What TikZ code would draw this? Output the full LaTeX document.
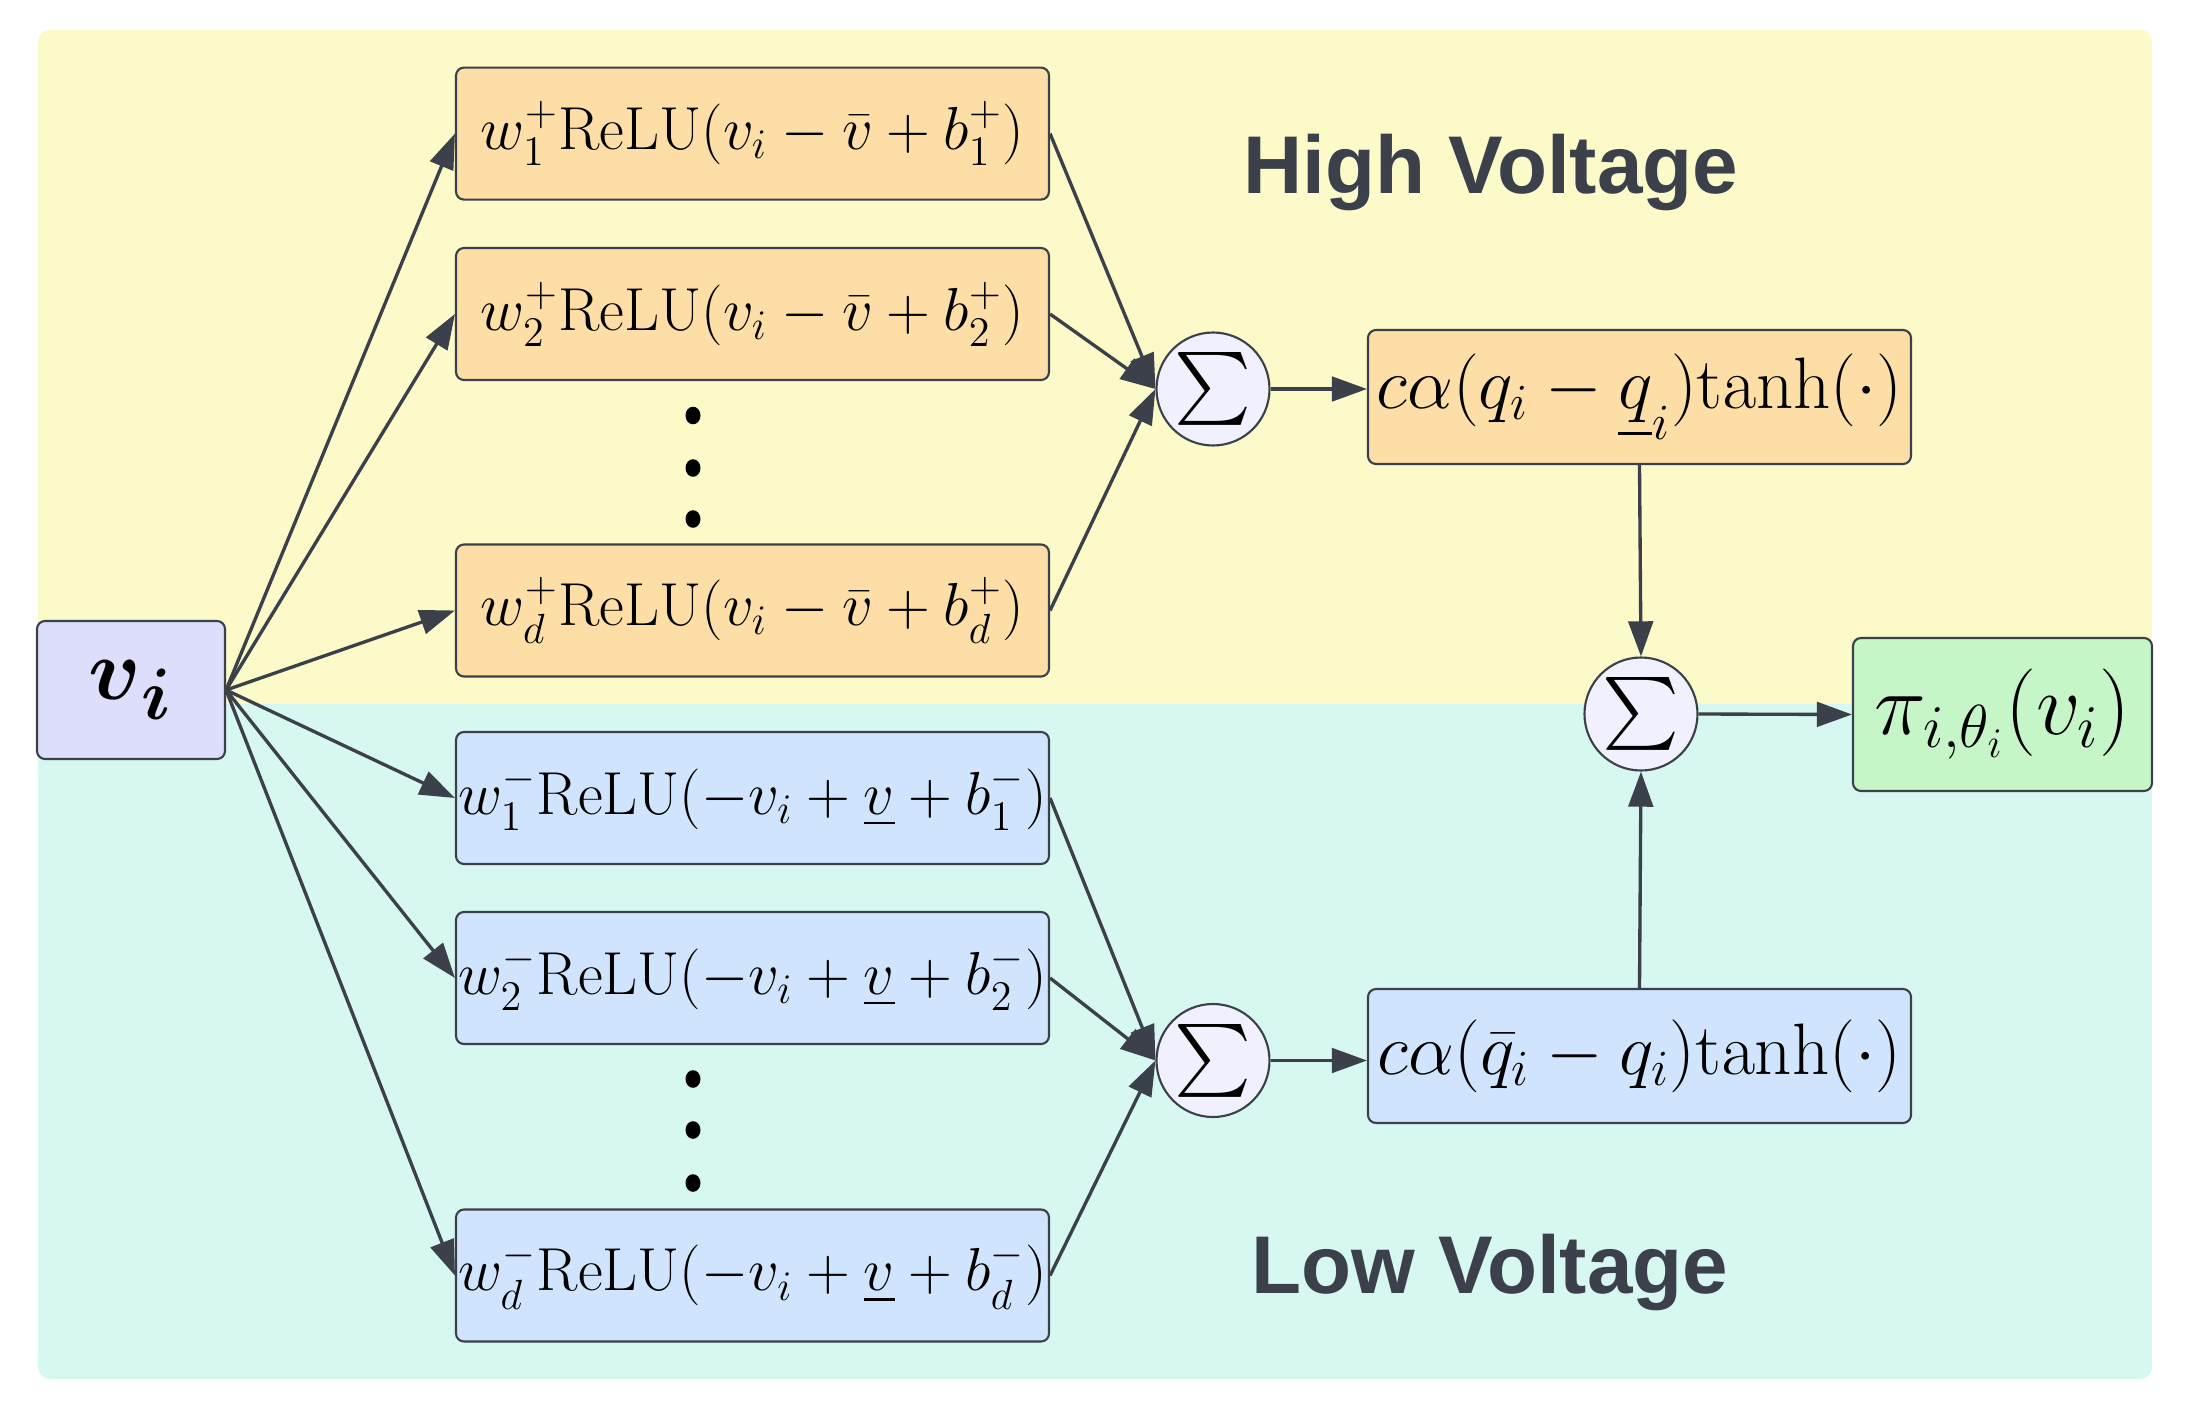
\documentclass[tikz,border=0pt]{standalone}
\usepackage[no-math]{fontspec}
\usepackage{amsmath}
\newfontfamily\regionfont{Liberation Sans}
\usepackage{tikz}
\usetikzlibrary{positioning, arrows.meta}
\tikzset{>={Triangle[length=10pt,width=7pt]}}
\usepackage{xcolor}
\definecolor{linegray}{RGB}{59,64,74}
\definecolor{hiback}{RGB}{251,250,200}
\definecolor{loback}{RGB}{214,248,240}
\definecolor{hibox}{RGB}{253,222,166}
\definecolor{lobox}{RGB}{208,228,253}
\definecolor{inbox}{RGB}{221,221,252}
\definecolor{sumfill}{RGB}{240,240,254}
\definecolor{outbox}{RGB}{198,245,200}

\tikzset{
    box/.style={draw=linegray, line width=0.6pt, rounded corners=0.08cm, inner sep=0pt},
    reluhi/.style={box, fill=hibox, minimum width=5.93cm, minimum height=1.32cm,
        font=\fontsize{17.4}{21}\selectfont},
    relulo/.style={reluhi, fill=lobox},
    funchi/.style={box, fill=hibox, minimum width=5.43cm, minimum height=1.34cm,
        font=\fontsize{20.8}{24}\selectfont},
    funclo/.style={funchi, fill=lobox},
    sumnode/.style={circle, draw=linegray, line width=0.6pt, fill=sumfill,
        minimum size=1.13cm, inner sep=0pt, font=\fontsize{19.5}{23}\selectfont},
    regionlabel/.style={anchor=base, text=linegray,
        font=\regionfont\bfseries\fontsize{23.3}{28}\selectfont},
    conn/.style={->, draw=linegray, line width=0.95pt}
}

\begin{document}
\begin{tikzpicture}

    \useasboundingbox (0,0) rectangle (22.07,-14.14);

    %two voltage regions behind the network
    \begin{scope}
        \clip[rounded corners=0.12cm] (0.38,-0.295) rectangle (21.52,-13.79);
        \fill[hiback] (0.38,-0.295) rectangle (21.52,-7.04);
        \fill[loback] (0.38,-7.04) rectangle (21.52,-13.79);
    \end{scope}

    \node[regionlabel] (hv) at (14.91,-1.93) {High Voltage};
    \node[regionlabel] (lv) at (14.90,-12.93) {Low Voltage};

    %input
    \node[box, fill=inbox, minimum width=1.88cm, minimum height=1.38cm,
        font=\fontsize{30}{35}\selectfont] (vi) at (1.31,-6.90)
        {$\boldsymbol{v}_{\boldsymbol{i}}$};

    %high voltage units
    \node[reluhi] (h1) at (7.525,-1.336) {$w_1^+\mathrm{ReLU}(v_i-\bar{v}+b_1^+)$};
    \node[reluhi] (h2) at (7.525,-3.14) {$w_2^+\mathrm{ReLU}(v_i-\bar{v}+b_2^+)$};
    \node[reluhi] (hd) at (7.525,-6.105) {$w_d^+\mathrm{ReLU}(v_i-\bar{v}+b_d^+)$};
    \fill (6.93,-4.155) ellipse (0.075 and 0.088);
    \fill (6.93,-4.68) ellipse (0.075 and 0.088);
    \fill (6.93,-5.19) ellipse (0.075 and 0.088);

    %low voltage units
    \node[relulo] (l1) at (7.525,-7.98) {$w_1^-\mathrm{ReLU}(-v_i+\underline{v}+b_1^-)$};
    \node[relulo] (l2) at (7.525,-9.78) {$w_2^-\mathrm{ReLU}(-v_i+\underline{v}+b_2^-)$};
    \node[relulo] (ld) at (7.525,-12.755) {$w_d^-\mathrm{ReLU}(-v_i+\underline{v}+b_d^-)$};
    \fill (6.93,-10.79) ellipse (0.075 and 0.088);
    \fill (6.93,-11.30) ellipse (0.075 and 0.088);
    \fill (6.93,-11.83) ellipse (0.075 and 0.088);

    %sums and saturations
    \node[sumnode] (sh) at (12.13,-3.89) {$\sum$};
    \node[sumnode] (sl) at (12.13,-10.605) {$\sum$};
    \node[funchi] (fh) at (16.395,-3.97) {$c\alpha(q_i-\underline{q}_i)\mathrm{tanh}(\cdot)$};
    \node[funclo] (fl) at (16.395,-10.56) {$c\alpha(\bar{q}_i-q_i)\mathrm{tanh}(\cdot)$};
    \node[sumnode] (st) at (16.41,-7.14) {$\sum$};
    \node[box, fill=outbox, minimum width=2.99cm, minimum height=1.53cm,
        font=\fontsize{23}{27}\selectfont] (out) at (20.025,-7.145)
        {$\pi_{i,\theta_i}(v_i)$};

    \draw[conn] (vi.east) -- (h1.west);
    \draw[conn] (vi.east) -- (h2.west);
    \draw[conn] (vi.east) -- (hd.west);
    \draw[conn] (vi.east) -- (l1.west);
    \draw[conn] (vi.east) -- (l2.west);
    \draw[conn] (vi.east) -- (ld.west);

    \draw[conn] (h1.east) -- (sh.west);
    \draw[conn] (h2.east) -- (sh.west);
    \draw[conn] (hd.east) -- (sh.west);
    \draw[conn] (l1.east) -- (sl.west);
    \draw[conn] (l2.east) -- (sl.west);
    \draw[conn] (ld.east) -- (sl.west);

    \draw[conn] (sh.east) -- (sh.east -| fh.west);
    \draw[conn] (sl.east) -- (sl.east -| fl.west);
    \draw[conn] (fh.south) -- (st.north);
    \draw[conn] (fl.north) -- (st.south);
    \draw[conn] (st.east) -- (out.west);

\end{tikzpicture}
\end{document}
